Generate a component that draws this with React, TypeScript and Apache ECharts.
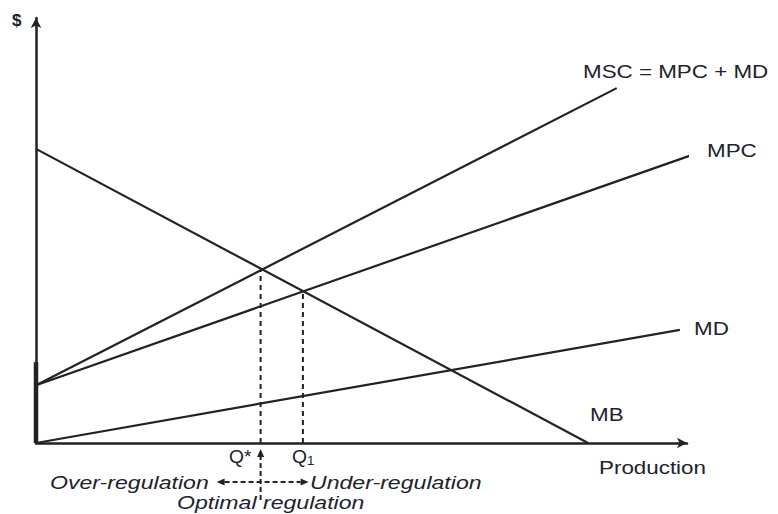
import React, { useEffect, useRef } from "react";
import * as echarts from "echarts";

// Curve end points (data units: x = production 0..100, y = $ 0..100)
const MB: number[][] = [[0, 69.2], [84.8, 0]];
const MSC: number[][] = [[0, 13.6], [89.2, 83.5]];
const MPC: number[][] = [[0, 13.6], [100.8, 67.8]];
const MD: number[][] = [[0, 0], [98.9, 26.6]];
const Q_STAR: number[] = [34.5, 40.9];
const Q_ONE: number[] = [41.0, 35.6];
const AXIS_STUB: number[][] = [[0, 0], [0, 19]];

const INK = "#222222";
const TXT = "#22222c";
const FONT = "Liberation Sans, Arial, sans-serif";

export default function App() {
  const ref = useRef<HTMLDivElement>(null);
  useEffect(() => {
    const chart = echarts.init(ref.current!, null, { renderer: "svg" });
    const line = (name: string, data: number[][], dashed = false, width = 2.2) => ({
      type: "line",
      name,
      data,
      symbol: "none",
      showSymbol: false,
      clip: false,
      silent: true,
      lineStyle: { color: INK, width, type: dashed ? [5, 4] : "solid" },
    });
    const axis = {
      type: "value",
      min: 0,
      max: 100,
      axisLine: {
        show: true,
        symbol: ["none", "arrow"],
        symbolSize: [8, 10],
        lineStyle: { color: INK, width: 2.5 },
      },
      axisTick: { show: false },
      axisLabel: { show: false },
      splitLine: { show: false },
    };
    chart.setOption({
      animation: false,
      grid: { left: 36, top: 18, right: 91, bottom: 71 },
      xAxis: axis,
      yAxis: axis,
      series: [
        line("MB", MB),
        line("MSC", MSC),
        line("MPC", MPC),
        line("MD", MD),
        line("QstarDrop", [[Q_STAR[0], 0], Q_STAR], true, 2),
        line("Q1Drop", [[Q_ONE[0], 0], Q_ONE], true, 2),
        line("axisStub", AXIS_STUB, false, 4.5),
      ],
    });

    const [qx, axisY] = chart.convertToPixel({ gridIndex: 0 }, [Q_STAR[0], 0]) as number[];
    const txt = (text: string, x: number, y: number, opts: any = {}) => ({
      type: "text",
      x,
      y,
      scaleX: opts.scaleX ?? 1.28,
      silent: true,
      style: {
        text,
        fill: TXT,
        font: `${opts.italic ? "italic " : ""}${opts.bold ? "bold " : ""}${opts.size ?? 17.5}px ${FONT}`,
        textAlign: "left",
        textVerticalAlign: "middle",
      },
    });
    const hy = 482;
    const dash = { stroke: INK, lineWidth: 2, lineDash: [5, 3] };
    chart.setOption({
      graphic: [
        txt("$", 12, 20, { bold: true, size: 17, scaleX: 1 }),
        txt("MSC = MPC + MD", 583, 72),
        txt("MPC", 707, 151),
        txt("MD", 694, 329),
        txt("MB", 590, 415),
        txt("Production", 599, 468),
        txt("Q*", 229, 457, { scaleX: 1.1 }),
        {
          type: "text",
          x: 292,
          y: 457,
          scaleX: 1.1,
          silent: true,
          style: {
            text: "{a|Q}{b|1}",
            textAlign: "left",
            textVerticalAlign: "middle",
            rich: {
              a: { font: `17.5px ${FONT}`, fill: TXT },
              b: { font: `12px ${FONT}`, fill: TXT, padding: [8, 0, 0, 0] },
            },
          },
        },
        txt("Over-regulation", 50, 483, { italic: true, scaleX: 1.32 }),
        txt("Under-regulation", 310, 483, { italic: true, scaleX: 1.32 }),
        txt("Optimal regulation", 177, 503, { italic: true, scaleX: 1.32 }),
        // vertical dashed arrow
        { type: "line", silent: true, shape: { x1: qx, y1: 500, x2: qx, y2: axisY + 14 }, style: dash },
        {
          type: "polygon",
          silent: true,
          shape: { points: [[qx, axisY + 6], [qx - 3.5, axisY + 14], [qx + 3.5, axisY + 14]] },
          style: { fill: INK },
        },
        // horizontal dashed double arrow
        { type: "line", silent: true, shape: { x1: qx - 36, y1: hy, x2: qx + 40, y2: hy }, style: dash },
        {
          type: "polygon",
          silent: true,
          shape: { points: [[qx - 44, hy], [qx - 36, hy - 3.5], [qx - 36, hy + 3.5]] },
          style: { fill: INK },
        },
        {
          type: "polygon",
          silent: true,
          shape: { points: [[qx + 48, hy], [qx + 40, hy - 3.5], [qx + 40, hy + 3.5]] },
          style: { fill: INK },
        },
      ],
    });
    return () => chart.dispose();
  }, []);
  return (
    <div
      ref={ref}
      style={{ position: "fixed", left: 0, top: 0, width: 778, height: 514, background: "#fff" }}
    />
  );
}
